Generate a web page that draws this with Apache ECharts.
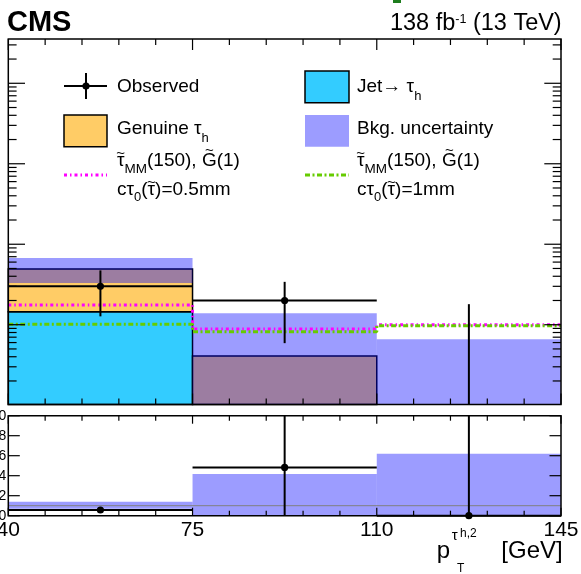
<!DOCTYPE html>
<html>
<head>
<meta charset="utf-8">
<script src="https://cdn.jsdelivr.net/npm/echarts@6/dist/echarts.min.js"></script>
<style>
  html, body { margin: 0; padding: 0; background: #fff; }
  #chart { width: 581px; height: 574px; }
</style>
</head>
<body>
<div id="chart"></div>
<script>
// Bin edges of the subleading tau pT histogram (GeV)
const binEdges = [40, 75, 110, 145];

// Stacked backgrounds (events per bin)
const jetToTauH = [1.45, 0, 0];
const genuineTauH = [3.48, 0.41, 0.1];

// Total background uncertainty band (absolute edges)
const bkgUncLow = [3.3, 0, 0];
const bkgUncHigh = [6.76, 1.39, 0.66];

// Observed counts and error bar edges
const observed = [3, 2, 0];
const observedLow = [1.27, 0.59, 0];
const observedHigh = [4.73, 3.41, 1.8];

// Signal hypotheses: stau_MM(150), gravitino(1)
const signalHalfMm = [1.76, 0.886, 1.0];
const signalOneMm = [1.01, 0.82, 0.97];

// Ratio panel (Obs./Bkg.)
const ratioObs = [0.57, 4.83, 0];
const ratioObsLow = [0.39, 0, 0];
const ratioObsHigh = [0.75, 10, 10];
const ratioUncLow = [0.7, 0, 0];
const ratioUncHigh = [1.4, 4.17, 6.2];
const ratioUnity = 1;

// Tick labels
const xLabelValues = [40, 75, 110, 145];
const ratioLabelValues = [0, 2, 4, 6, 8, 10];

const FONT = '"Liberation Sans", Arial, Helvetica, sans-serif';
const Y_MIN = 0.102, Y_MAX = 3550;
const R_MIN = 0, R_MAX = 10;

const COL_JET = '#33ccff';
const COL_GEN = '#ffcc66';
const COL_UNC = 'rgba(0,0,255,0.39)';
const COL_MAG = '#ff00ff';
const COL_GRN = '#66cc00';
const DASH_MAG = [3, 3, 1.5, 3];
const DASH_GRN = [5, 2.5, 2, 2.5];

const chart = echarts.init(document.getElementById('chart'), null, { renderer: 'canvas' });

const binItems = binEdges.slice(0, -1).map((e, i) => [(e + binEdges[i + 1]) / 2, 1, i]);

// Filled histogram rectangles between two per-bin arrays
function histRects(name, lowArr, highArr, style, gi, yMin, yMax, z) {
  return {
    type: 'custom', name, xAxisIndex: gi, yAxisIndex: gi, z,
    data: binItems,
    renderItem(params, api) {
      const i = api.value(2);
      const lo = Math.max(lowArr[i], yMin);
      const hi = Math.min(highArr[i], yMax);
      if (!(hi > lo)) return null;
      const p0 = api.coord([binEdges[i], hi]);
      const p1 = api.coord([binEdges[i + 1], lo]);
      return { type: 'rect', shape: { x: p0[0], y: p0[1], width: p1[0] - p0[0], height: p1[1] - p0[1] }, style };
    }
  };
}

// Data points with horizontal (bin width) and vertical error bars
function pointSeries(name, vals, lows, highs, gi, yMin, yMax, z) {
  return {
    type: 'custom', name, xAxisIndex: gi, yAxisIndex: gi, z,
    data: binItems,
    renderItem(params, api) {
      const i = api.value(2);
      const children = [];
      const ln = { stroke: '#000', lineWidth: 2 };
      const v = vals[i];
      const xc = (binEdges[i] + binEdges[i + 1]) / 2;
      if (v >= yMin && v <= yMax) {
        const a = api.coord([binEdges[i], v]);
        const b = api.coord([binEdges[i + 1], v]);
        children.push({ type: 'line', shape: { x1: a[0], y1: a[1], x2: b[0], y2: b[1] }, style: ln });
      }
      if (highs[i] > yMin) {
        const a = api.coord([xc, Math.max(lows[i], yMin)]);
        const b = api.coord([xc, Math.min(highs[i], yMax)]);
        children.push({ type: 'line', shape: { x1: a[0], y1: a[1], x2: b[0], y2: b[1] }, style: ln });
      }
      if (v >= yMin && v <= yMax) {
        const c = api.coord([xc, v]);
        children.push({ type: 'circle', shape: { cx: c[0], cy: c[1], r: 3.6 }, style: { fill: '#000' } });
      }
      return { type: 'group', children };
    }
  };
}

function stepPoints(arr) {
  return binEdges.map((x, i) => [x, arr[Math.min(i, arr.length - 1)]]);
}

const genuineLow = jetToTauH.slice();
const genuineHigh = jetToTauH.map((v, i) => v + genuineTauH[i]);
const jetLow = jetToTauH.map(() => 0);

const hiddenAxis = {
  axisLine: { show: false }, axisTick: { show: false }, splitLine: { show: false }
};

const option = {
  animation: false,
  backgroundColor: '#fff',
  grid: [
    { left: 8.3, top: 39, width: 552.7, height: 365.5, show: false, containLabel: false, outerBoundsMode: 'none' },
    { left: 8.3, top: 415.7, width: 552.7, height: 100, show: false, containLabel: false, outerBoundsMode: 'none' }
  ],
  xAxis: [
    Object.assign({ gridIndex: 0, type: 'value', min: 40, max: 145, axisLabel: { show: false } }, hiddenAxis),
    Object.assign({
      gridIndex: 1, type: 'value', min: 40, max: 145,
      axisLabel: {
        customValues: xLabelValues, fontSize: 21, fontFamily: FONT, color: '#000', margin: 4,
        showMinLabel: true, showMaxLabel: true, hideOverlap: false
      }
    }, hiddenAxis)
  ],
  yAxis: [
    Object.assign({ gridIndex: 0, type: 'log', logBase: 10, min: Y_MIN, max: Y_MAX, axisLabel: { show: false } }, hiddenAxis),
    Object.assign({
      gridIndex: 1, type: 'value', min: R_MIN, max: R_MAX, interval: 2,
      axisLabel: { customValues: ratioLabelValues, fontSize: 14, fontFamily: FONT, color: '#000', margin: 2 }
    }, hiddenAxis)
  ],
  series: [
    histRects('Jet→ τh', jetLow, jetToTauH, { fill: COL_JET, stroke: '#000', lineWidth: 1.5 }, 0, Y_MIN, Y_MAX, 2),
    histRects('Genuine τh', genuineLow, genuineHigh, { fill: COL_GEN, stroke: '#000', lineWidth: 1.5 }, 0, Y_MIN, Y_MAX, 3),
    histRects('Bkg. uncertainty', bkgUncLow, bkgUncHigh, { fill: COL_UNC }, 0, Y_MIN, Y_MAX, 4),
    {
      type: 'line', name: 'cτ0=0.5mm', xAxisIndex: 0, yAxisIndex: 0, step: 'end', symbol: 'none', z: 5,
      data: stepPoints(signalHalfMm),
      lineStyle: { color: COL_MAG, width: 3, type: DASH_MAG, cap: 'butt' }
    },
    {
      type: 'line', name: 'cτ0=1mm', xAxisIndex: 0, yAxisIndex: 0, step: 'end', symbol: 'none', z: 5,
      data: stepPoints(signalOneMm),
      lineStyle: { color: COL_GRN, width: 3, type: DASH_GRN, cap: 'butt' }
    },
    pointSeries('Observed', observed, observedLow, observedHigh, 0, Y_MIN, Y_MAX, 6),

    histRects('Bkg. uncertainty ratio', ratioUncLow, ratioUncHigh, { fill: COL_UNC }, 1, R_MIN, R_MAX, 2),
    {
      type: 'line', xAxisIndex: 1, yAxisIndex: 1, symbol: 'none', z: 3,
      data: [[binEdges[0], ratioUnity], [binEdges[binEdges.length - 1], ratioUnity]],
      lineStyle: { color: '#808080', width: 1 }
    },
    pointSeries('Observed ratio', ratioObs, ratioObsLow, ratioObsHigh, 1, R_MIN, R_MAX, 6)
  ]
};

chart.setOption(option);

// ---- frames, ticks, legend and text ----
const els = [];
const ctx = document.createElement('canvas').getContext('2d');
function tw(t, s, bold) {
  ctx.font = (bold ? 'bold ' : '') + s + 'px ' + FONT;
  return ctx.measureText(t).width;
}
function px(gi, x, y) { return chart.convertToPixel({ gridIndex: gi }, [x, y]); }
function seg(x1, y1, x2, y2, w) {
  els.push({ type: 'line', silent: true, z: 100, shape: { x1, y1, x2, y2 }, style: { stroke: '#000', lineWidth: w || 1.2 } });
}
function textEl(t, x, baseline, s, bold, align) {
  return {
    type: 'text', silent: true, z: 110, x, y: baseline - 0.33 * s,
    style: { text: t, fill: '#000', fontSize: s, fontFamily: FONT, fontWeight: bold ? 'bold' : 'normal', align: align || 'left', verticalAlign: 'middle' }
  };
}
// Runs of text; a piece with `tilde` gets a tilde accent centred above it
function flow(x, baseline, pieces) {
  let cx = x;
  pieces.forEach(p => {
    const w = tw(p.t, p.s, p.bold);
    els.push(textEl(p.t, cx, baseline + (p.dy || 0), p.s, p.bold));
    if (p.tilde != null) {
      els.push(textEl('~', cx + w / 2, baseline + p.tilde, 15, false, 'center'));
    }
    cx += w;
  });
}
function flowRight(xr, baseline, pieces) {
  const total = pieces.reduce((a, p) => a + tw(p.t, p.s, p.bold), 0);
  flow(xr - total, baseline, pieces);
}

function frameAndTicks(gi, yVals, yMajor, yLenMajor, yLenMinor, xLenMajor, xLenMinor, yMinV, yMaxV) {
  const tl = px(gi, 40, yMaxV);
  const br = px(gi, 145, yMinV);
  const L = tl[0], T = tl[1], R = br[0], B = br[1];
  for (let v = 40; v <= 145; v += 7) {
    const major = (v - 40) % 35 === 0;
    const len = major ? xLenMajor : xLenMinor;
    const x = px(gi, v, yMinV)[0];
    seg(x, T, x, T + len);
    seg(x, B, x, B - len);
  }
  yVals.forEach(v => {
    const y = px(gi, 40, v)[1];
    const len = yMajor(v) ? yLenMajor : yLenMinor;
    seg(L, y, L + len, y);
    seg(R, y, R - len, y);
  });
  els.push({ type: 'rect', silent: true, z: 105, shape: { x: L, y: T, width: R - L, height: B - T },
    style: { fill: 'none', stroke: '#000', lineWidth: 1.5 } });
}

const logTicks = [];
for (let e = -1; e <= 3; e++) {
  for (let k = 1; k <= 9; k++) {
    const v = k * Math.pow(10, e);
    if (v >= Y_MIN && v <= Y_MAX) logTicks.push(v);
  }
}
frameAndTicks(0, logTicks, v => Math.abs(Math.log10(v) - Math.round(Math.log10(v))) < 1e-9,
  16.7, 8.3, 11, 6, Y_MIN, Y_MAX);
frameAndTicks(1, ratioLabelValues, () => true, 11.5, 11.5, 8, 5, R_MIN, R_MAX);

// Legend: left column
const LX = 117, RX = 357;
seg(64, 86, 107, 86, 2);
seg(86, 73, 86, 99, 2);
els.push({ type: 'circle', silent: true, z: 110, shape: { cx: 86, cy: 86, r: 3.6 }, style: { fill: '#000' } });
flow(LX, 93, [{ t: 'Observed', s: 19 }]);

els.push({ type: 'rect', silent: true, z: 110, shape: { x: 64, y: 115, width: 43, height: 31.7 },
  style: { fill: COL_GEN, stroke: '#000', lineWidth: 1.5 } });
flow(LX, 135.5, [{ t: 'Genuine τ', s: 19 }, { t: 'h', s: 13, dy: 7.5 }]);

function signalLabel(x, tail) {
  flow(x, 167, [{ t: 'τ', s: 19, tilde: -8 }, { t: 'MM', s: 13.5, dy: 6.5 }, { t: '(150), ', s: 19 },
    { t: 'G', s: 19, tilde: -11.5 }, { t: '(1)', s: 19 }]);
  flow(x, 196, [{ t: 'cτ', s: 19 }, { t: '0', s: 13, dy: 5.5 }, { t: '(', s: 19 }, { t: 'τ', s: 19, tilde: -8 },
    { t: ')=' + tail, s: 19 }]);
}

els.push({ type: 'line', silent: true, z: 110, shape: { x1: 64, y1: 175, x2: 107, y2: 175 },
  style: { stroke: COL_MAG, lineWidth: 3, lineDash: DASH_MAG } });
signalLabel(LX, '0.5mm');

// Legend: right column
els.push({ type: 'rect', silent: true, z: 110, shape: { x: 305, y: 71, width: 44, height: 31.7 },
  style: { fill: COL_JET, stroke: '#000', lineWidth: 1.5 } });
flow(RX, 93, [{ t: 'Jet→ τ', s: 19 }, { t: 'h', s: 13, dy: 7.5 }]);

els.push({ type: 'rect', silent: true, z: 110, shape: { x: 305, y: 115, width: 44, height: 31.7 },
  style: { fill: COL_UNC } });
flow(RX, 135.5, [{ t: 'Bkg. uncertainty', s: 19 }]);

els.push({ type: 'line', silent: true, z: 110, shape: { x1: 305, y1: 175, x2: 349, y2: 175 },
  style: { stroke: COL_GRN, lineWidth: 3, lineDash: DASH_GRN } });
signalLabel(RX, '1mm');

// Header
flow(7, 33, [{ t: 'CMS', s: 29, bold: true }]);
flowRight(561.7, 31.7, [{ t: '138 fb', s: 23.5 }, { t: '-1', s: 12.5, dy: -8.5 }, { t: ' (13 TeV)', s: 23.5 }]);
els.push({ type: 'rect', silent: true, z: 110, shape: { x: 393, y: 0, width: 8, height: 3 }, style: { fill: '#1e7d1e' } });

// X-axis title
els.push(textEl('p', 436.7, 559.5, 24));
els.push(textEl('T', 457, 573, 12));
els.push(textEl('τ', 451.7, 540.5, 15));
els.push(textEl('h,2', 460, 537.5, 12));
els.push(textEl('[GeV]', 562.7, 559.5, 24, false, 'right'));

chart.setOption({ graphic: { elements: els } });
</script>
</body>
</html>
